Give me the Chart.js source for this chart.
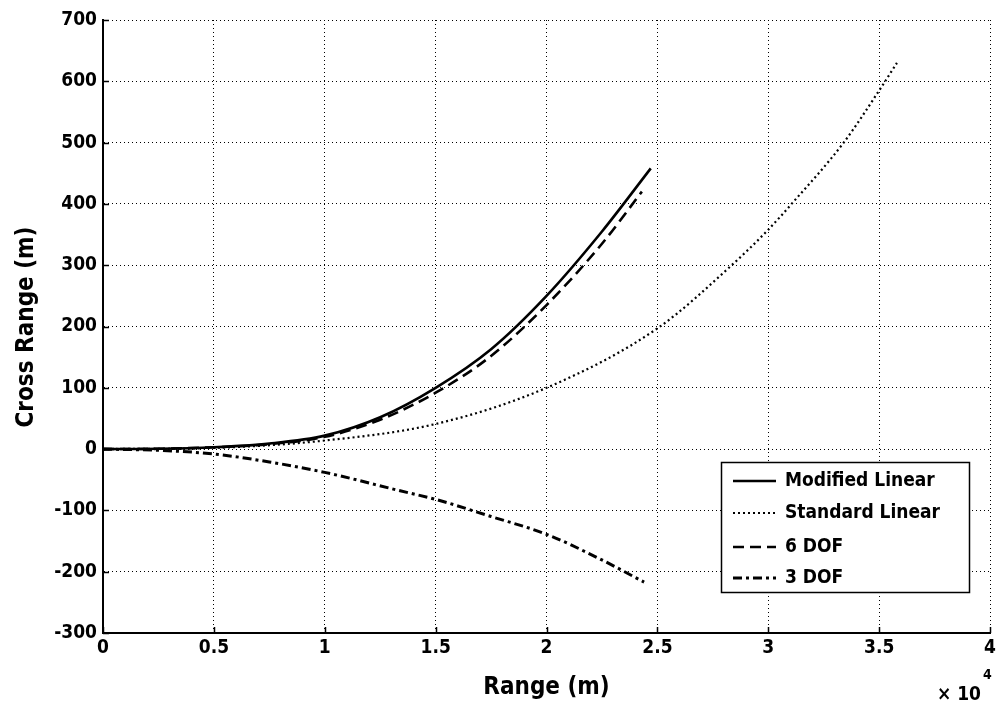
<!DOCTYPE html>
<html>
<head>
<meta charset="utf-8">
<script src="https://cdn.jsdelivr.net/npm/chart.js@4.4.1/dist/chart.umd.min.js"></script>
<style>
html,body{margin:0;padding:0;background:#fff;}
canvas{display:block;}
</style>
</head>
<body>
<canvas id="c" width="1000" height="709"></canvas>
<script>
// Range values in units of 10^4 m, cross range in m
const modLinX = [0, 0.25, 0.5, 0.75, 1.0, 1.25, 1.5, 1.75, 2.0, 2.25, 2.47];
const modLinY = [0, 0.5, 3, 9, 22, 52, 100, 163, 250, 355, 458];

const stdLinX = [0, 0.5, 1.0, 1.5, 2.0, 2.5, 2.835, 3.0, 3.105, 3.34, 3.5, 3.58];
const stdLinY = [0, 2, 14, 41, 100, 197, 300, 358, 400, 500, 585, 630];

const sixDofX = [0, 0.25, 0.5, 0.75, 1.0, 1.25, 1.5, 1.75, 2.0, 2.25, 2.43];
const sixDofY = [0, 0.5, 3, 8, 20, 48, 92, 152, 235, 335, 420];

const threeDofX = [0, 0.25, 0.5, 0.75, 1.0, 1.34, 1.5, 1.75, 2.0, 2.24, 2.44];
const threeDofY = [0, -2, -8, -21, -38, -68, -82, -110, -139, -179, -217];

const seriesLabels = ["Modified Linear", "Standard Linear", "6 DOF", "3 DOF"];
const xTicks = [0, 0.5, 1, 1.5, 2, 2.5, 3, 3.5, 4];
const yTicks = [-300, -200, -100, 0, 100, 200, 300, 400, 500, 600, 700];
const xTitle = "Range (m)";
const yTitle = "Cross Range (m)";
const xExponent = "4";

const FONT = '"DejaVu Sans Condensed", "DejaVu Sans", sans-serif';

function pts(xs, ys){ return xs.map((x,i)=>({x:x, y:ys[i]})); }

const styles = [
  {borderDash: [], borderWidth: 2.6},
  {borderDash: [2, 3], borderWidth: 2.2},
  {borderDash: [11, 6], borderWidth: 2.6},
  {borderDash: [9, 4, 3, 4], borderWidth: 3}
];
const dataSets = [pts(modLinX, modLinY), pts(stdLinX, stdLinY), pts(sixDofX, sixDofY), pts(threeDofX, threeDofY)];

const datasets = dataSets.map((d,i)=>({
  label: seriesLabels[i],
  data: d,
  borderColor: '#000',
  backgroundColor: '#000',
  borderWidth: styles[i].borderWidth,
  borderDash: styles[i].borderDash,
  pointRadius: 0,
  cubicInterpolationMode: 'monotone',
  fill: false
}));

const decor = {
  id: 'decor',
  afterDraw(chart){
    const ctx = chart.ctx;
    const xs = chart.scales.x, ys = chart.scales.y;
    const a = chart.chartArea;
    ctx.save();
    // inward ticks
    ctx.strokeStyle = '#000'; ctx.lineWidth = 1.5; ctx.setLineDash([]);
    xTicks.forEach(v=>{
      const px = Math.round(xs.getPixelForValue(v))+0.5;
      ctx.beginPath(); ctx.moveTo(px, a.bottom); ctx.lineTo(px, a.bottom-6); ctx.stroke();
    });
    yTicks.forEach(v=>{
      const py = Math.round(ys.getPixelForValue(v))+0.5;
      ctx.beginPath(); ctx.moveTo(a.left, py); ctx.lineTo(a.left+6, py); ctx.stroke();
    });
    // axis titles
    ctx.fillStyle = '#000';
    ctx.font = 'bold 24px ' + FONT;
    ctx.textAlign = 'center'; ctx.textBaseline = 'middle';
    ctx.fillText(xTitle, (a.left+a.right)/2, 688);
    ctx.save();
    ctx.translate(27, 327);
    ctx.rotate(-Math.PI/2);
    ctx.fillText(yTitle, 0, 0);
    ctx.restore();
    // exponent
    ctx.font = 'bold 19px ' + FONT;
    ctx.textAlign = 'right'; ctx.textBaseline = 'alphabetic';
    ctx.fillText('\u00d7 10', 981, 700);
    ctx.font = 'bold 14px ' + FONT;
    ctx.textAlign = 'left';
    ctx.fillText(xExponent, 983, 679);
    // legend
    const lx = 721, ly = 462, lw = 248, lh = 130;
    ctx.fillStyle = '#fff';
    ctx.fillRect(lx, ly, lw, lh);
    ctx.strokeStyle = '#000'; ctx.lineWidth = 1.5;
    ctx.strokeRect(lx+0.5, ly+0.5, lw, lh);
    const rows = [481, 513, 547, 578];
    chart.data.datasets.forEach((ds, i)=>{
      ctx.setLineDash(ds.borderDash);
      ctx.lineWidth = ds.borderWidth;
      ctx.beginPath(); ctx.moveTo(733, rows[i]); ctx.lineTo(776, rows[i]); ctx.stroke();
      ctx.setLineDash([]);
      ctx.fillStyle = '#000';
      ctx.font = 'bold 19px ' + FONT;
      ctx.textAlign = 'left'; ctx.textBaseline = 'middle';
      ctx.fillText(ds.label, 785, rows[i]);
    });
    ctx.restore();
  }
};

new Chart(document.getElementById('c'), {
  type: 'line',
  data: { datasets: datasets },
  options: {
    responsive: false,
    animation: false,
    layout: { padding: { top: 20, right: 8, left: 0, bottom: 0 } },
    plugins: { legend: { display: false }, tooltip: { enabled: false } },
    scales: {
      x: {
        type: 'linear', min: 0, max: 4,
        afterFit(s){ s.height = 76; },
        afterBuildTicks(s){ s.ticks = xTicks.map(v=>({value:v})); },
        ticks: { color: '#000', font: { family: FONT, size: 19, weight: 'bold' }, padding: 4, maxRotation: 0,
          callback: v => String(v) },
        grid: { color: '#000', lineWidth: 1, drawTicks: false },
        border: { display: true, color: '#000', width: 2, dash: [1, 3] }
      },
      y: {
        type: 'linear', min: -300, max: 700,
        afterFit(s){ s.width = 103; },
        afterBuildTicks(s){ s.ticks = yTicks.map(v=>({value:v})); },
        ticks: { color: '#000', font: { family: FONT, size: 19, weight: 'bold' }, padding: 6,
          callback: v => String(v) },
        grid: { color: '#000', lineWidth: 1, drawTicks: false },
        border: { display: true, color: '#000', width: 2, dash: [1, 3] }
      }
    }
  },
  plugins: [decor]
});
</script>
</body>
</html>
